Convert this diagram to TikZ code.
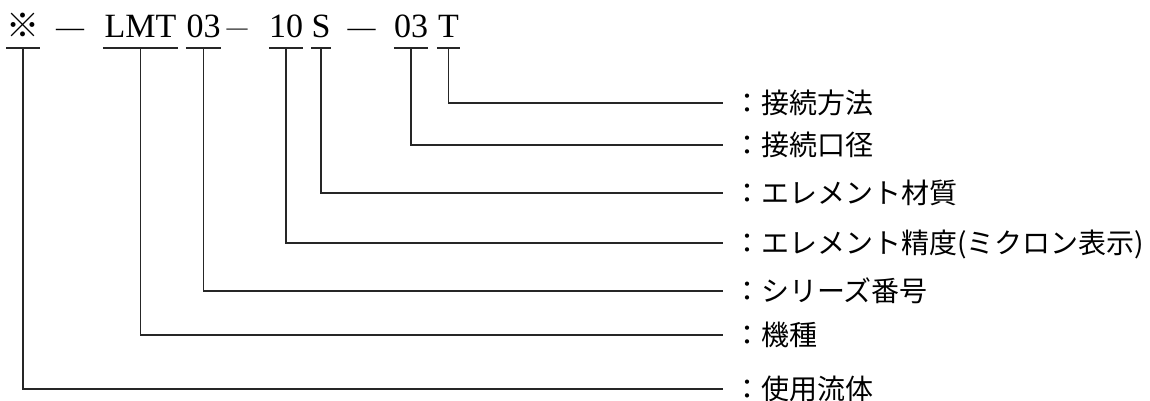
\documentclass[tikz,border=0pt]{standalone}
\usepackage{fontspec}
\setmainfont{Liberation Serif}
\newfontfamily\cjk{Noto Sans CJK JP}
\begin{document}
\begin{tikzpicture}[x=1pt,y=-1pt,
  tok/.style={inner sep=0pt, text height=23pt, text depth=10pt, anchor=south,
    font=\fontsize{34}{34}\selectfont},
  dashtok/.style={inner sep=0pt, anchor=base, font=\fontsize{28}{28}\selectfont},
  lab/.style={inner sep=0pt, text height=24.6pt, text depth=3.4pt, anchor=west,
    font=\cjk\fontsize{28}{28}\selectfont},
  ln/.style={line width=1.2pt, black!85}]
\useasboundingbox (0,0) rectangle (1150,401);
% code tokens
\node[tok, minimum width=32pt, font=\cjk\fontsize{33}{33}\selectfont] (kome) at (23,48) {※};
\node[dashtok] (d1) at (70,37) {—};
\node[tok, minimum width=75pt] (lmt) at (140.5,48) {LMT};
\node[tok, minimum width=35pt] (ser) at (203.5,48) {03};
\node[dashtok, font=\fontsize{21}{21}\selectfont] (d2) at (237,35) {—};
\node[tok, minimum width=34pt] (acc) at (286,48) {10};
\node[tok, minimum width=18pt] (mat) at (321,48) {S};
\node[dashtok] (d3) at (361.5,37) {—};
\node[tok, minimum width=34pt] (dia) at (411,48) {03};
\node[tok, minimum width=23pt] (con) at (448.5,48) {T};
% labels
\node[lab] (lcon) at (733,103) {：接続方法};
\node[lab] (ldia) at (733,145) {：接続口径};
\node[lab] (lmat) at (733,193) {：エレメント材質};
\node[lab] (lacc) at (733,243) {：エレメント精度(ミクロン表示)};
\node[lab] (lser) at (733,291) {：シリーズ番号};
\node[lab] (llmt) at (733,335) {：機種};
\node[lab] (lkome) at (733,389) {：使用流体};
% underlines and leaders
\foreach \t/\l in {kome/lkome, lmt/llmt, ser/lser, acc/lacc, mat/lmat, dia/ldia, con/lcon}{
  \draw[ln] (\t.south west) -- (\t.south east);
  \draw[ln] (\t.south) |- ([xshift=-10pt]\l.west);
}
\end{tikzpicture}
\end{document}
